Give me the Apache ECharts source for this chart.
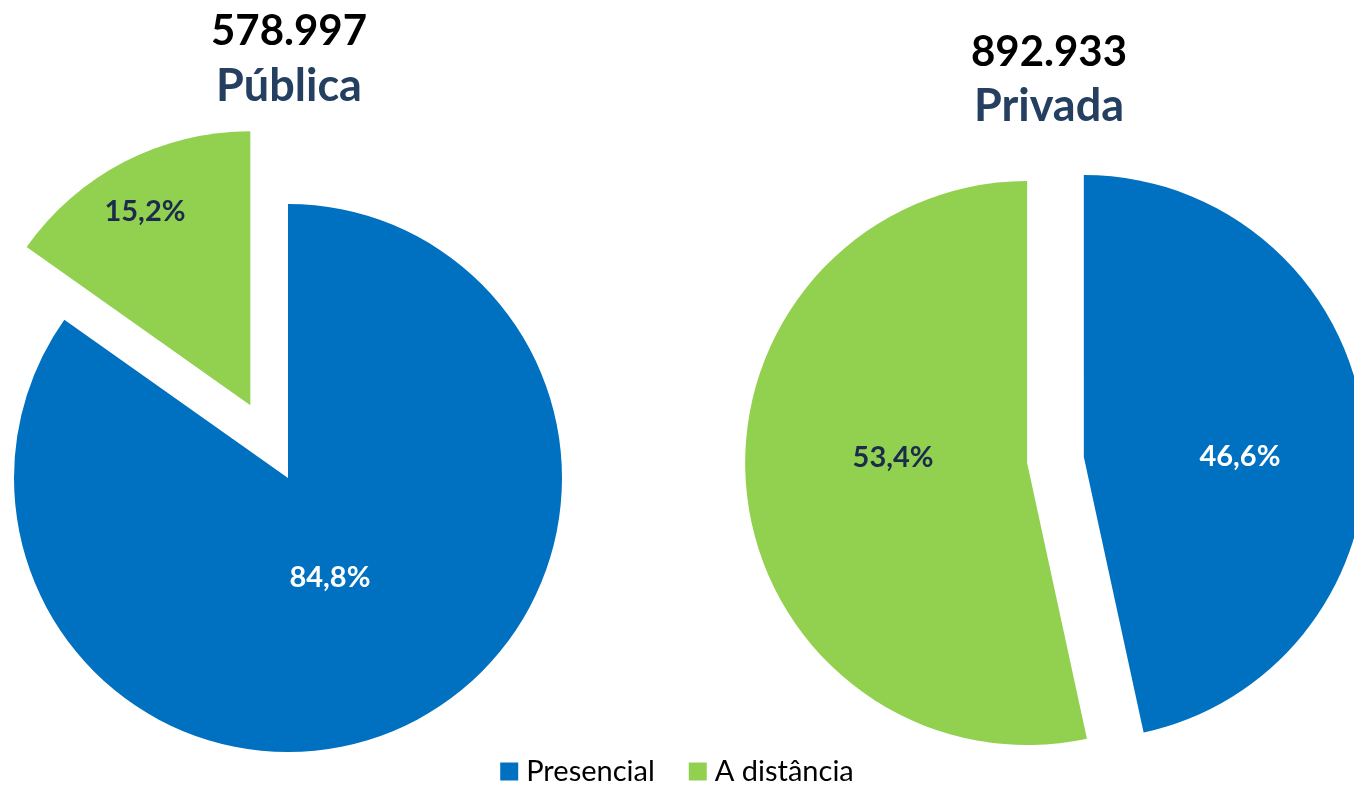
<!DOCTYPE html>
<html>
<head>
<meta charset="utf-8">
<script src="https://cdn.jsdelivr.net/npm/echarts@6/dist/echarts.min.js"></script>
<style>
html,body{margin:0;padding:0;background:#fff;}
#chart{width:1354px;height:785px;}
</style>
</head>
<body>
<div id="chart"></div>
<script>
// ---- data ----
const categories = ['Presencial', 'A distância'];
const publicaPct = [84.8, 15.2];
const privadaPct = [46.6, 53.4];
const totals = [578997, 892933];
const groupNames = ['Pública', 'Privada'];

// ---- style ----
const COLORS = ['#0070C0', '#92D050'];
const LABEL_COLORS = ['#ffffff', '#1B2B4B'];
const TITLE_BLUE = '#243F60';
const FONT = 'Lato, "Open Sans", sans-serif';
// labelPos: label centre relative to pie centre, as fraction of radius
const pies = [
  { center: [288, 478], r: 274, offset: 82, selected: [false, true],
    labelPos: [[0.153, 0.365], [-0.522, -0.971]], title: [289, 31, 86] },
  { center: [1055.5, 460], r: 282, offset: 28.5, selected: [true, true],
    labelPos: [[0.654, -0.011], [-0.576, -0.007]], title: [1049, 52, 106] }
];
const seriesData = [publicaPct, privadaPct];

function fmtThousands(n) {
  return String(n).replace(/\B(?=(\d{3})+(?!\d))/g, '.');
}
function fmtPct(v) {
  return v.toFixed(1).replace('.', ',') + '%';
}

function labelPlace(si, di) {
  const p = pies[si];
  const f = p.labelPos[di];
  return { x: p.center[0] + f[0] * p.r, y: p.center[1] + f[1] * p.r, align: 'center', verticalAlign: 'middle' };
}

// visible sectors (exploded slices)
const series = seriesData.map((vals, si) => ({
  type: 'pie',
  center: pies[si].center,
  radius: pies[si].r,
  startAngle: 90,
  clockwise: true,
  selectedMode: 'multiple',
  selectedOffset: pies[si].offset,
  silent: true,
  animation: false,
  emphasis: { disabled: true },
  label: { show: false },
  labelLine: { show: false },
  data: vals.map((v, di) => ({
    name: categories[di],
    value: v,
    selected: pies[si].selected[di],
    itemStyle: { color: COLORS[di] }
  }))
}));

// label layer: same values, transparent sectors, carries the percentage labels
seriesData.forEach((vals, si) => {
  series.push({
    type: 'pie',
    center: pies[si].center,
    radius: pies[si].r,
    startAngle: 90,
    clockwise: true,
    silent: true,
    animation: false,
    legendHoverLink: false,
    emphasis: { disabled: true },
    itemStyle: { color: 'rgba(0,0,0,0)' },
    label: {
      show: true,
      position: 'inside',
      fontFamily: FONT,
      fontWeight: 'bold',
      fontSize: 29,
      formatter: p => fmtPct(p.value)
    },
    labelLine: { show: false },
    labelLayout: p => labelPlace(si, p.dataIndex),
    data: vals.map((v, di) => ({
      name: categories[di] + ' ',
      value: v,
      label: { color: LABEL_COLORS[di] }
    }))
  });
});

const graphics = [];
pies.forEach((p, i) => {
  graphics.push({
    type: 'text', x: p.title[0], y: p.title[1],
    style: { text: fmtThousands(totals[i]), fill: '#000', font: 'bold 42px ' + FONT, textAlign: 'center', textVerticalAlign: 'middle' }
  });
  graphics.push({
    type: 'text', x: p.title[0], y: p.title[2],
    style: { text: groupNames[i], fill: TITLE_BLUE, font: 'bold 45px ' + FONT, textAlign: 'center', textVerticalAlign: 'middle' }
  });
});

const chart = echarts.init(document.getElementById('chart'), null, { renderer: 'canvas' });
chart.setOption({
  animation: false,
  color: COLORS,
  legend: {
    data: categories,
    top: 752,
    left: 'center',
    icon: 'rect',
    itemWidth: 18,
    itemHeight: 18,
    itemGap: 34,
    selectedMode: false,
    textStyle: { fontFamily: FONT, fontSize: 29, color: '#000', padding: [0, 0, 0, 3] }
  },
  graphic: graphics,
  series: series
});
</script>
</body>
</html>
